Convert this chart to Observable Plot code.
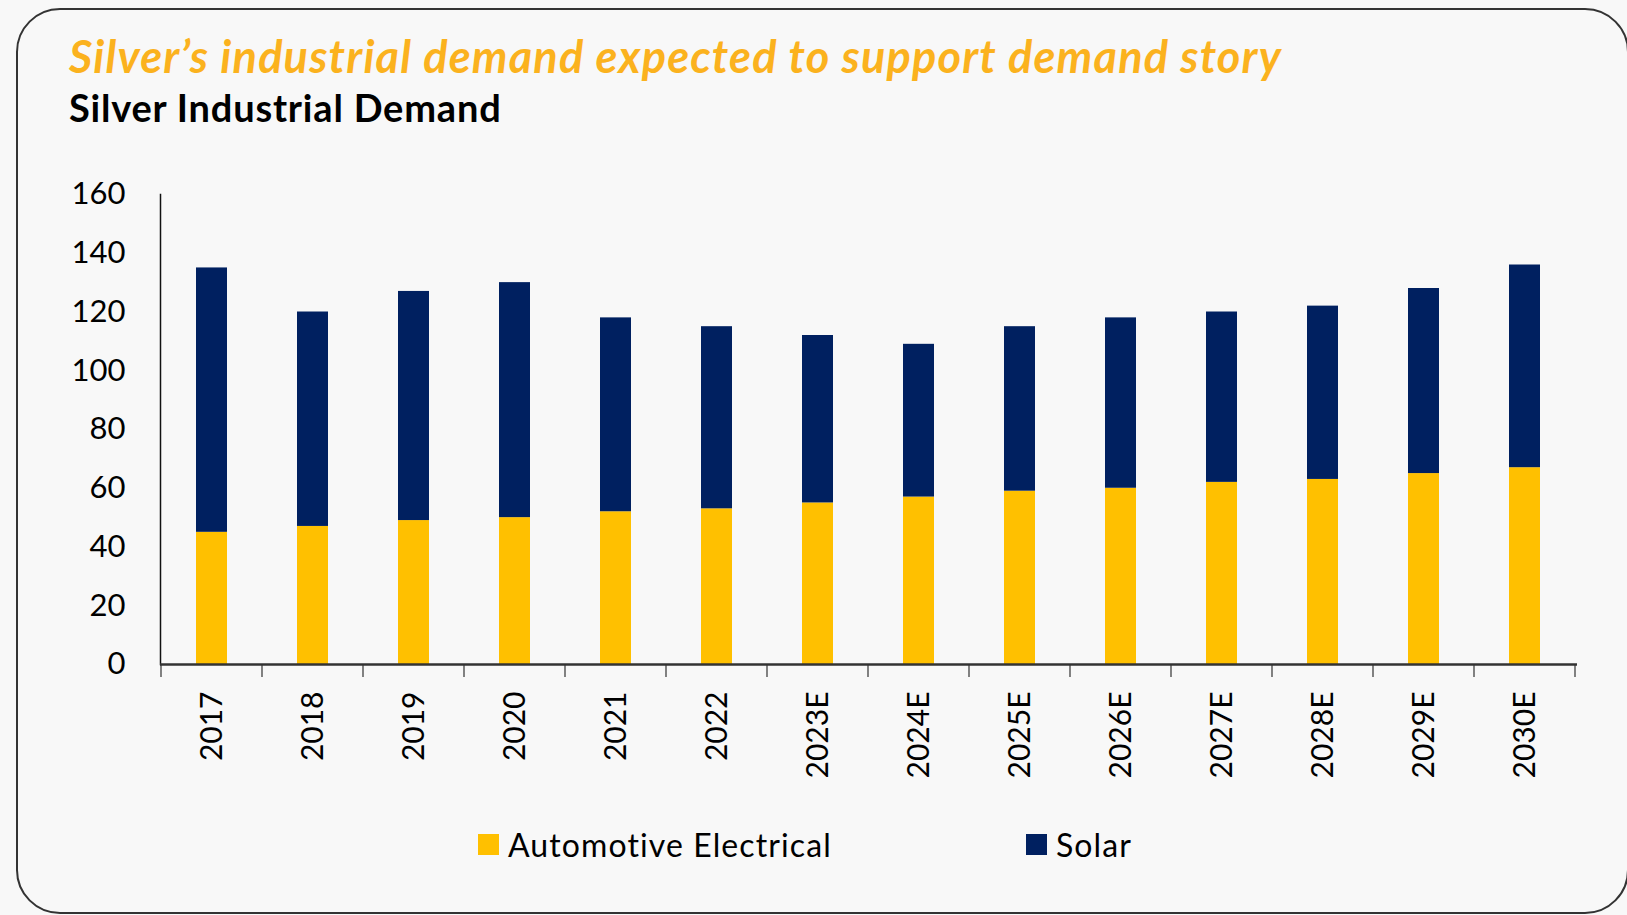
<!DOCTYPE html>
<html>
<head>
<meta charset="utf-8">
<script src="https://cdn.jsdelivr.net/npm/d3@7"></script>
<script src="https://cdn.jsdelivr.net/npm/@observablehq/plot@0.6"></script>
<style>
  html, body { margin: 0; padding: 0; background: #f8f8f8; }
  body { width: 1627px; height: 915px; position: relative; overflow: hidden; font-family: Lato, "Open Sans", sans-serif; }
  #card { position: absolute; left: 16px; top: 8px; width: 1613px; height: 906px; border: 2.5px solid #333; border-radius: 44px; background: #f8f8f8; box-sizing: border-box; }
  #title { position: absolute; left: 69px; top: 34px; font-size: 45px; letter-spacing: 1.2px; font-weight: 700; font-style: italic; color: #FBB21E; white-space: nowrap; line-height: 1; }
  #subtitle { position: absolute; left: 69px; top: 88px; font-size: 38px; letter-spacing: 0.8px; font-weight: 700; color: #000; white-space: nowrap; line-height: 1; }
  #chart { position: absolute; left: 0; top: 170px; }
  .leg { position: absolute; top: 829px; font-size: 32px; letter-spacing: 1.1px; color: #000; line-height: 32px; white-space: nowrap; }
  .sw { position: absolute; width: 21px; height: 21px; top: 834px; }
</style>
</head>
<body>
<div id="card"></div>
<div id="title">Silver’s industrial demand expected to support demand story</div>
<div id="subtitle">Silver Industrial Demand</div>
<div id="chart"></div>
<div id="legend"></div>
<script>
const years = ["2017","2018","2019","2020","2021","2022","2023E","2024E","2025E","2026E","2027E","2028E","2029E","2030E"];
const automotive = [45, 47, 49, 50, 52, 53, 55, 57, 59, 60, 62, 63, 65, 67];
const solar      = [90, 73, 78, 80, 66, 62, 57, 52, 56, 58, 58, 59, 63, 69];
const seriesNames = ["Automotive Electrical", "Solar"];
const seriesColors = ["#FFC000", "#002060"];
const yTicks = [0, 20, 40, 60, 80, 100, 120, 140, 160];

const rows = years.flatMap((yr, i) => [
  {year: yr, series: seriesNames[0], value: automotive[i]},
  {year: yr, series: seriesNames[1], value: solar[i]}
]);

const plot = Plot.plot({
  width: 1627,
  height: 640,
  marginLeft: 160,
  marginRight: 50,
  marginTop: 24,
  marginBottom: 146,
  style: {background: "transparent", fontFamily: "Lato, sans-serif", color: "#000", overflow: "visible"},
  x: {domain: years, paddingInner: 0.69, paddingOuter: 0.345, align: 0.5},
  y: {domain: [0, 160]},
  color: {domain: seriesNames, range: seriesColors},
  marks: [
    Plot.barY(rows, {x: "year", y: "value", fill: "series"}),
    Plot.axisY({ticks: yTicks, tickSize: 0, tickPadding: 35, label: null, fontSize: 31}),
    Plot.axisX({tickSize: 0, tickRotate: -90, tickPadding: 27, label: null, fontSize: 30}),
    Plot.frame({anchor: "left", stroke: "#111", strokeWidth: 1.5}),
    Plot.ruleY([0], {stroke: "#333", strokeWidth: 2.5})
  ]
});
document.getElementById("chart").appendChild(plot);

// boundary tick marks between categories, from the plot's own x scale
const xs = plot.scale("x");
const ys = plot.scale("y");
const y0 = ys.apply(0);
const half = (xs.step - xs.bandwidth) / 2;
const bounds = years.map(yr => xs.apply(yr) - half);
bounds.push(xs.apply(years[years.length - 1]) + xs.bandwidth + half);
d3.select(plot).append("g")
  .attr("stroke", "#333").attr("stroke-width", 1.2)
  .selectAll("line").data(bounds).join("line")
  .attr("x1", d => d).attr("x2", d => d)
  .attr("y1", y0).attr("y2", y0 + 13);

// legend
const legend = document.getElementById("legend");
const legX = [478, 1026];
seriesNames.forEach((name, i) => {
  const sw = document.createElement("div");
  sw.className = "sw";
  sw.style.left = legX[i] + "px";
  sw.style.background = seriesColors[i];
  legend.appendChild(sw);
  const t = document.createElement("div");
  t.className = "leg";
  t.style.left = (legX[i] + 30) + "px";
  t.textContent = name;
  legend.appendChild(t);
});
</script>
</body>
</html>
